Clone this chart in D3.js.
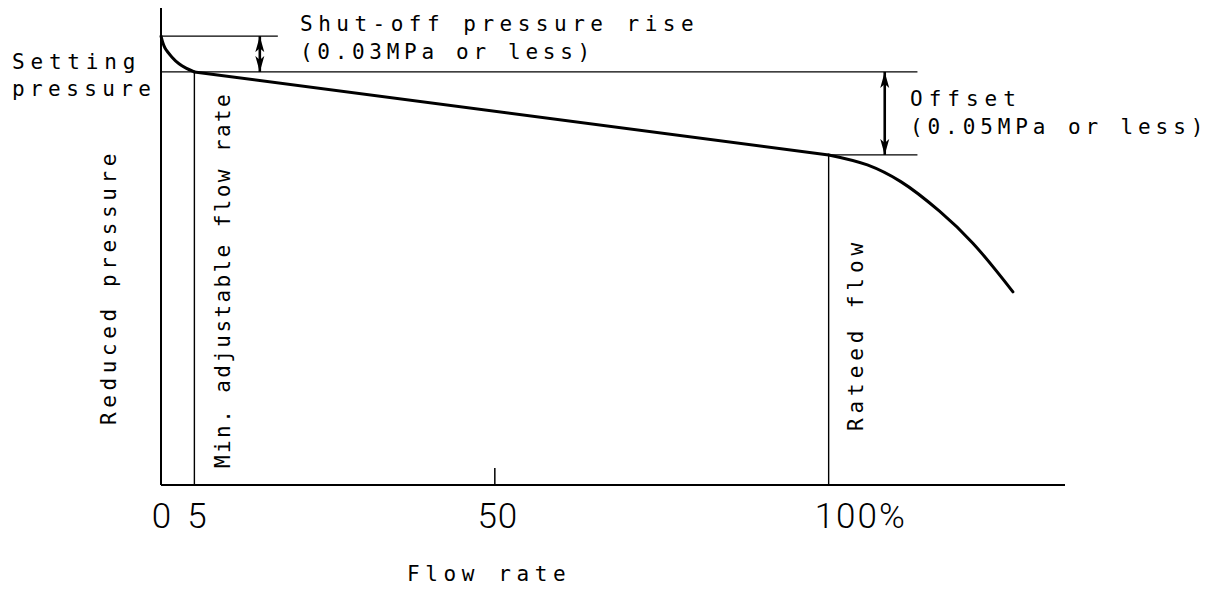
<!DOCTYPE html>
<html>
<head>
<meta charset="utf-8">
<script src="https://cdn.jsdelivr.net/npm/d3@7"></script>
<style>
  body { margin: 0; background: #fff; }
  svg { display: block; }
  text { font-family: "DejaVu Sans Mono", monospace; fill: #000; }
</style>
</head>
<body>
<svg id="chart"></svg>
<script>
(function() {

    // flow rate (%) vs reduced pressure (relative units, 0..100 on the axis)
    const shutoffCurve = [
        {flow: 0, p: 94.1}, {flow: 0.6, p: 91.6}, {flow: 1.65, p: 89.7},
        {flow: 2.7, p: 88.3}, {flow: 3.75, p: 87.4}, {flow: 5, p: 86.6}
    ];
    const offsetLine = [{flow: 5, p: 86.6}, {flow: 100, p: 69.2}];
    const droopCurve = [
        {flow: 100, p: 69.2}, {flow: 105.8, p: 67.1}, {flow: 110.8, p: 63.6},
        {flow: 116.6, p: 57.4}, {flow: 121.6, p: 50.7}, {flow: 127.6, p: 40.5}
    ];
    const tickValues = [0, 5, 50, 100];
    const tickLabels = ['0', '5', '50', '100%'];
    const shutoffP = 94.1;
    const settingP = 86.6;
    const ratedP = 69.2;

    const w = 1216;
    const h = 590;
    const left = 161;
    const bottom = 485;

    const x = d3.scaleLinear().domain([0, 135.4]).range([left, 1065]);
    const y = d3.scaleLinear().domain([0, 100]).range([bottom, 8]);

    const svg = d3.select('#chart').attr('width', w).attr('height', h);

    const defs = svg.append('defs');
    defs.append('marker')
        .attr('id', 'arrow')
        .attr('viewBox', '0 0 16 10')
        .attr('refX', 16).attr('refY', 5)
        .attr('markerWidth', 16).attr('markerHeight', 10)
        .attr('markerUnits', 'userSpaceOnUse')
        .attr('orient', 'auto-start-reverse')
        .append('path')
        .attr('d', 'M0,0.5 L16,5 L0,9.5 L4,5 Z')
        .attr('fill', '#000');

    // Axes
    svg.append('line')
        .attr('x1', x(0)).attr('x2', x(0))
        .attr('y1', y(100)).attr('y2', bottom)
        .attr('stroke', '#000').attr('stroke-width', 2);
    svg.append('line')
        .attr('x1', x(0)).attr('x2', x(135.4))
        .attr('y1', bottom).attr('y2', bottom)
        .attr('stroke', '#000').attr('stroke-width', 2);

    // 50% tick
    svg.append('line')
        .attr('x1', x(50)).attr('x2', x(50))
        .attr('y1', bottom - 17).attr('y2', bottom)
        .attr('stroke', '#000').attr('stroke-width', 1.5);

    // Guide lines
    const guides = [
        [0, shutoffP, 17.5, shutoffP],
        [0, settingP, 113.3, settingP],
        [100, ratedP, 113.3, ratedP],
        [5, 0, 5, settingP],
        [100, 0, 100, ratedP]
    ];
    svg.append('g').selectAll('line')
        .data(guides)
        .enter().append('line')
        .attr('x1', d => x(d[0])).attr('y1', d => y(d[1]))
        .attr('x2', d => x(d[2])).attr('y2', d => y(d[3]))
        .attr('stroke', '#000').attr('stroke-width', 1.4);

    // Double arrows
    const arrows = [[14.8, shutoffP, settingP], [108.4, settingP, ratedP]];
    svg.append('g').selectAll('line')
        .data(arrows)
        .enter().append('line')
        .attr('x1', d => x(d[0])).attr('x2', d => x(d[0]))
        .attr('y1', d => y(d[1])).attr('y2', d => y(d[2]))
        .attr('stroke', '#000').attr('stroke-width', 2.6)
        .attr('marker-start', 'url(#arrow)')
        .attr('marker-end', 'url(#arrow)');

    // Characteristic curve
    const smooth = d3.line().x(d => x(d.flow)).y(d => y(d.p)).curve(d3.curveCatmullRom.alpha(0.5));
    [shutoffCurve, offsetLine, droopCurve].forEach(seg => {
        svg.append('path')
            .attr('d', smooth(seg))
            .attr('fill', 'none')
            .attr('stroke', '#000')
            .attr('stroke-width', 3)
            .attr('stroke-linecap', 'round');
    });

    // Tick labels
    svg.append('g').selectAll('text')
        .data(tickValues)
        .enter().append('text')
        .attr('x', d => x(d))
        .attr('y', 528)
        .attr('dx', (d, i) => i === 3 ? -14 : (i === 0 ? 1 : 3))
        .attr('text-anchor', (d, i) => i === 3 ? 'start' : 'middle')
        .style('font-family', 'Roboto, "DejaVu Sans", sans-serif')
        .style('font-weight', 300)
        .style('font-size', '35px')
        .style('letter-spacing', (d, i) => i === 3 ? '2px' : '1px')
        .text((d, i) => tickLabels[i]);

    const label = (txt, tx, ty, spacing, rotate) => {
        const t = svg.append('text')
            .attr('x', tx).attr('y', ty)
            .style('font-size', '21px')
            .style('letter-spacing', spacing + 'px')
            .text(txt);
        if (rotate) t.attr('transform', `rotate(-90, ${tx}, ${ty})`);
        return t;
    };

    label('Shut-off pressure rise', 300, 31, 5.5, false);
    label('(0.03MPa or less)', 300, 59, 4.7, false);
    label('Setting', 12, 69, 5.8, false);
    label('pressure', 12, 96, 5.4, false);
    label('Offset', 910, 106, 6.0, false);
    label('(0.05MPa or less)', 910, 134, 4.9, false);
    label('Flow rate', 407, 581, 5.6, false);
    label('Reduced pressure', 116, 425, 4.6, true);
    label('Min. adjustable flow rate', 230, 468, 2.4, true);
    label('Rateed flow', 863, 431, 4.9, true);

})();
</script>
</body>
</html>
